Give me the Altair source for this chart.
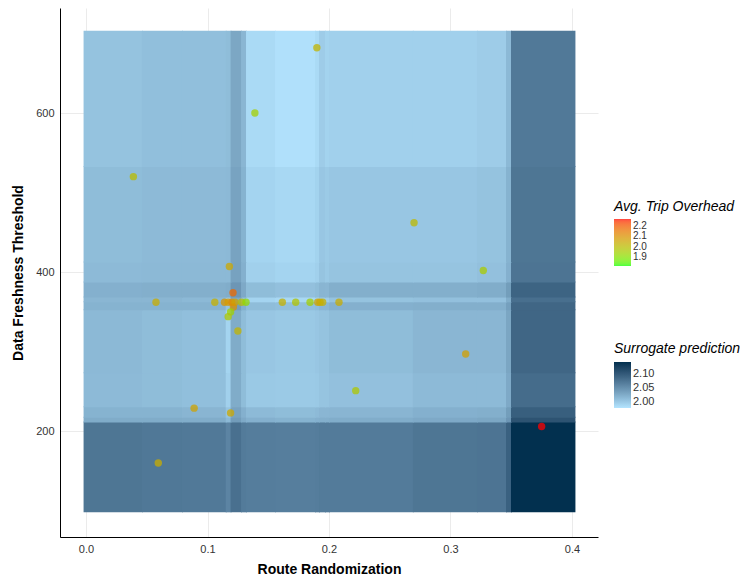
import altair as alt
import pandas as pd

# Surrogate-model surface: piecewise-constant cells on an x/y band grid
x_edges = [-0.002, 0.046, 0.079, 0.115, 0.119, 0.1276, 0.1317, 0.1556, 0.1885,
           0.1918, 0.1967, 0.2, 0.269, 0.3218, 0.3457, 0.3498, 0.402]
y_edges = [98, 211, 217, 230, 273, 352, 362, 368, 387, 412, 532, 702]

# one row per y band (bottom to top), one value per x band
surrogate = [
    [2.073, 2.071, 2.070, 2.060, 2.078, 2.068, 2.066, 2.065, 2.066, 2.068, 2.068, 2.068, 2.073, 2.074, 2.092, 2.140],
    [2.026, 2.026, 2.025, 2.015, 2.039, 2.028, 2.022, 2.020, 2.022, 2.023, 2.023, 2.025, 2.028, 2.030, 2.044, 2.105],
    [2.020, 2.020, 2.018, 2.006, 2.033, 2.022, 2.014, 2.012, 2.014, 2.017, 2.017, 2.018, 2.022, 2.023, 2.038, 2.094],
    [2.014, 2.012, 2.010, 1.996, 2.026, 2.012, 2.002, 2.001, 2.002, 2.006, 2.006, 2.009, 2.014, 2.014, 2.028, 2.082],
    [2.015, 2.012, 2.010, 1.993, 2.026, 2.012, 2.004, 2.002, 2.004, 2.007, 2.007, 2.012, 2.017, 2.017, 2.031, 2.087],
    [2.020, 2.020, 2.020, 2.006, 2.038, 2.022, 2.012, 2.010, 2.012, 2.017, 2.017, 2.022, 2.023, 2.023, 2.036, 2.087],
    [2.017, 2.017, 2.015, 1.999, 2.028, 2.009, 1.993, 1.990, 1.993, 1.999, 1.999, 2.007, 2.009, 2.009, 2.025, 2.079],
    [2.022, 2.023, 2.023, 2.025, 2.044, 2.028, 2.012, 2.009, 2.012, 2.018, 2.017, 2.023, 2.023, 2.025, 2.038, 2.089],
    [2.014, 2.015, 2.015, 2.015, 2.034, 2.022, 1.996, 1.993, 1.996, 2.006, 2.002, 2.006, 2.006, 2.009, 2.022, 2.074],
    [2.012, 2.014, 2.014, 2.015, 2.033, 2.020, 1.993, 1.990, 1.994, 2.004, 2.001, 2.004, 2.004, 2.007, 2.020, 2.073],
    [2.007, 2.010, 2.010, 2.012, 2.030, 2.017, 1.988, 1.983, 1.988, 1.999, 1.994, 1.996, 1.996, 1.999, 2.015, 2.070],
]

# Evaluated configurations
route_rand = [0.190, 0.139, 0.039, 0.270, 0.327, 0.118, 0.121, 0.0576, 0.106, 0.114,
              0.117, 0.120, 0.1226, 0.128, 0.1317, 0.1616, 0.1726, 0.1844, 0.1907, 0.1926,
              0.1948, 0.2082, 0.1213, 0.119, 0.117, 0.125, 0.3125, 0.222, 0.089, 0.119,
              0.375, 0.0595]
freshness = [682, 600, 520, 462, 402, 407, 374, 362, 362, 362,
             362, 362, 362, 362, 362, 362, 362, 362, 362, 362,
             362, 362, 356, 350, 344, 326, 297, 251, 229, 223,
             206, 160]
overhead = [2.02, 1.95, 2.00, 2.01, 1.96, 2.05, 2.18, 2.04, 2.03, 2.09,
            2.08, 2.12, 2.06, 2.00, 1.92, 2.03, 1.98, 1.95, 2.06, 2.05,
            2.03, 2.04, 2.10, 1.94, 1.97, 2.02, 2.07, 1.97, 2.06, 2.05,
            2.27, 2.04]

cells = []
for j, row in enumerate(surrogate):
    for i, val in enumerate(row):
        cells.append({"x0": x_edges[i], "x1": x_edges[i + 1],
                      "y0": y_edges[j], "y1": y_edges[j + 1], "pred": val})
grid = pd.DataFrame(cells)
pts = pd.DataFrame({"rr": route_rand, "dft": freshness, "ato": overhead})

FONT = "Liberation Sans"
xs = alt.Scale(domain=[-0.0214, 0.4214], nice=False, zero=False)
ys = alt.Scale(domain=[67, 732], nice=False, zero=False)

# cells overlap their right/top neighbour by one pixel so no hairline seams show
heat = alt.Chart(grid).mark_rect(strokeWidth=0, x2Offset=1, y2Offset=-1).encode(
    x=alt.X("x0:Q", scale=xs,
            axis=alt.Axis(title="Route Randomization", values=[0, 0.1, 0.2, 0.3, 0.4], format=".1f")),
    x2="x1:Q",
    y=alt.Y("y0:Q", scale=ys,
            axis=alt.Axis(title="Data Freshness Threshold", values=[200, 400, 600], format="d")),
    y2="y1:Q",
    fill=alt.Fill("pred:Q",
                  scale=alt.Scale(domain=[1.98, 2.14], range=["#b3e4ff", "#02304f"], interpolate="lab"),
                  legend=alt.Legend(title="Surrogate prediction", orient="none", legendX=554, legendY=334,
                                    direction="vertical", values=[2.0, 2.05, 2.1], format=".2f",
                                    gradientLength=46, gradientThickness=17, titlePadding=6)),
)

dots = alt.Chart(pts).mark_circle(size=55, opacity=0.75).encode(
    x="rr:Q",
    y="dft:Q",
    color=alt.Color("ato:Q",
                    scale=alt.Scale(domain=[1.813, 2.268], range=["#00ff00", "#ff0000"], interpolate="lab"),
                    legend=alt.Legend(title="Avg. Trip Overhead", orient="none", legendX=554, legendY=192,
                                      direction="vertical", values=[1.9, 2.0, 2.1, 2.2], format=".1f",
                                      gradientLength=47, gradientThickness=17, titlePadding=5,
                                      labelFontSize=10)),
)

chart = alt.layer(heat, dots).resolve_scale(
    x="shared", y="shared"
).properties(
    width=538, height=529,
    autosize=alt.AutoSizeParams(type="none"),
    padding={"left": 60, "top": 8, "right": 149, "bottom": 42},
).configure_view(stroke=None).configure_axis(
    domainColor="black", domainWidth=1, ticks=False, labelPadding=6,
    gridColor="#ebebeb", gridWidth=1,
    labelFont=FONT, labelFontSize=11, labelColor="#333333",
    titleFont=FONT, titleFontSize=14, titleFontWeight="bold", titleColor="black",
).configure_axisX(titlePadding=8).configure_axisY(titlePadding=10).configure_legend(
    titleFont=FONT, titleFontSize=14, titleFontStyle="italic", titleFontWeight="normal",
    titleColor="black", labelFont=FONT, labelFontSize=11, labelColor="#333333",
    labelOverlap=False, gradientStrokeWidth=0, labelOffset=4,
)

chart.save("out.html", embed_options={"renderer": "svg", "actions": False})
